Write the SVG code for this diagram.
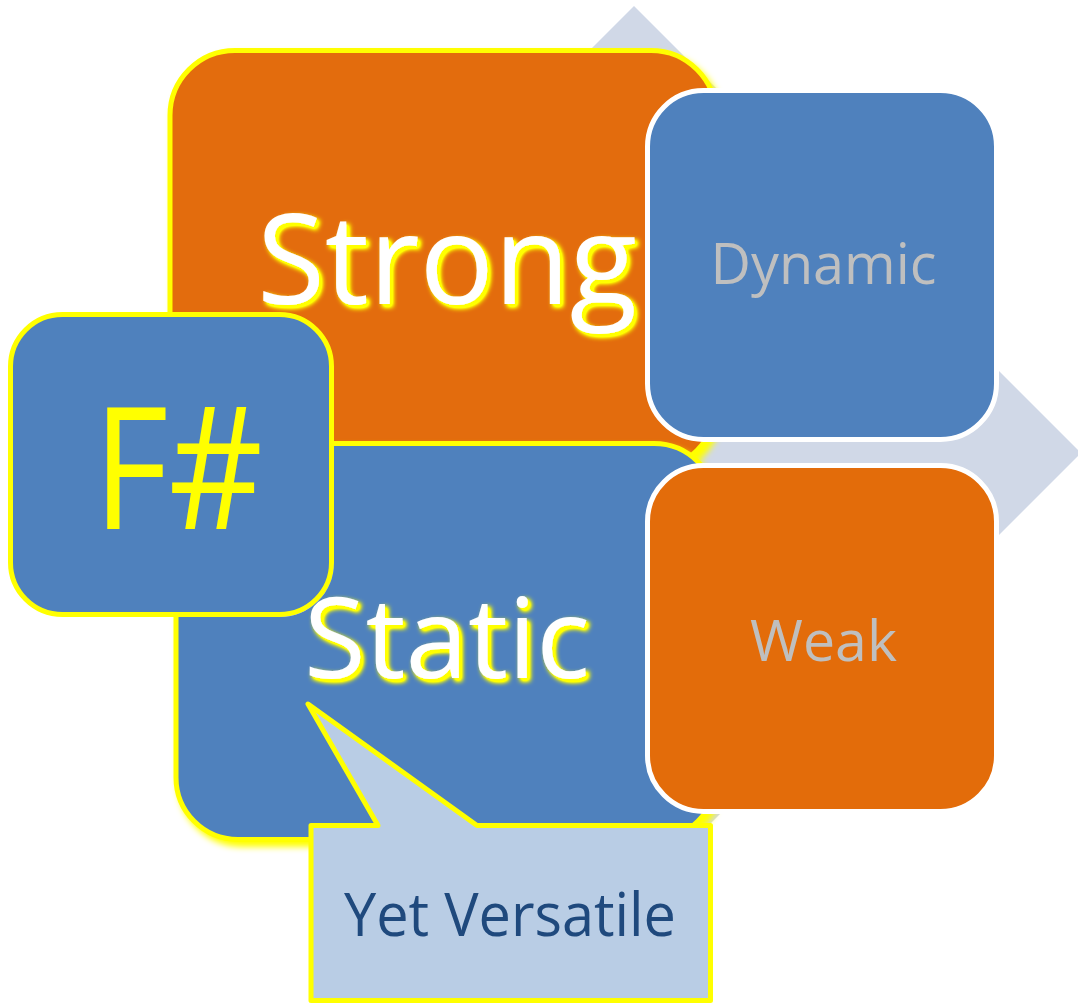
<svg xmlns="http://www.w3.org/2000/svg" width="1078" height="1006" viewBox="0 0 1078 1006">
  <style>
    .label { font-family: "Open Sans", "Liberation Sans", sans-serif; text-anchor: middle; }
    .box-yellow { stroke: #FFFF00; stroke-width: 5; }
    .box-white { stroke: #FFFFFF; stroke-width: 5; }
    .orange { fill: #E36C0A; }
    .blue { fill: #4F81BD; }
    .big { fill: #FFFFFF; filter: url(#text-glow); }
    .muted { fill: #BFBFBF; }
  </style>
  <defs>
    <!-- soft yellow halo cast down-right, used by the large boxes -->
    <filter id="box-glow" x="-10%" y="-10%" width="125%" height="125%">
      <feGaussianBlur in="SourceAlpha" stdDeviation="3" result="b"/>
      <feOffset in="b" dx="4" dy="5" result="o"/>
      <feFlood flood-color="#FFFF00"/>
      <feComposite in2="o" operator="in" result="s"/>
      <feMerge><feMergeNode in="s"/><feMergeNode in="SourceGraphic"/></feMerge>
    </filter>
    <!-- yellow shadow behind the white headline words -->
    <filter id="text-glow" x="-10%" y="-20%" width="125%" height="150%">
      <feGaussianBlur in="SourceAlpha" stdDeviation="2.4" result="b"/>
      <feOffset in="b" dx="3" dy="3" result="o"/>
      <feComponentTransfer in="o" result="o2">
        <feFuncA type="linear" slope="2"/>
      </feComponentTransfer>
      <feFlood flood-color="#FFFF00"/>
      <feComposite in2="o2" operator="in" result="s"/>
      <feMerge><feMergeNode in="s"/><feMergeNode in="SourceGraphic"/></feMerge>
    </filter>
    <!-- keeps the F# tile visible where it overlaps the Static box -->
    <mask id="clear-fsharp" maskUnits="userSpaceOnUse" x="0" y="0" width="1078" height="1006">
      <rect width="1078" height="1006" fill="#FFFFFF"/>
      <rect x="10.5" y="314.5" width="321" height="300" rx="52" fill="#000000" stroke="#000000" stroke-width="5"/>
    </mask>
  </defs>

  <!-- backdrop diamond -->
  <g id="backdrop">
    <polygon points="634,6 1081,453 634,900 187,453" fill="#D0D8E7"/>
  </g>

  <g id="strong">
    <rect class="orange box-yellow" x="170" y="50.5" width="546" height="419" rx="65" filter="url(#box-glow)"/>
    <text class="label big" x="447" y="304" font-size="124" textLength="380" lengthAdjust="spacingAndGlyphs">Strong</text>
  </g>

  <g id="fsharp">
    <rect class="blue box-yellow" x="10.5" y="314.5" width="321" height="300" rx="52"/>
    <text class="label" x="178" y="529" font-size="171" font-weight="500" fill="#FFFF00" textLength="170" lengthAdjust="spacingAndGlyphs">F#</text>
  </g>

  <g id="static">
    <g mask="url(#clear-fsharp)">
      <rect class="blue box-yellow" x="176" y="443.5" width="540" height="396" rx="62" filter="url(#box-glow)"/>
    </g>
    <text class="label big" x="447" y="678" font-size="112" textLength="286" lengthAdjust="spacingAndGlyphs">Static</text>
  </g>

  <g id="dynamic">
    <rect class="blue box-white" x="647.5" y="90.5" width="349" height="349" rx="56"/>
    <text class="label muted" x="823.5" y="284" font-size="56" textLength="226" lengthAdjust="spacingAndGlyphs">Dynamic</text>
  </g>

  <g id="weak">
    <rect class="orange box-white" x="647.5" y="465.5" width="349" height="346" rx="56"/>
    <text class="label muted" x="823.5" y="661" font-size="57" textLength="147" lengthAdjust="spacingAndGlyphs">Weak</text>
  </g>

  <g id="callout">
    <path d="M311,825.5 L378,825.5 L308,704 L477,825.5 L710.5,825.5 L710.5,1000.5 L311,1000.5 Z" fill="#B9CDE5" stroke="#FFFF00" stroke-width="5" stroke-linejoin="round"/>
    <text class="label" x="510" y="936" font-size="60" fill="#1F497D" textLength="332" lengthAdjust="spacingAndGlyphs">Yet Versatile</text>
  </g>
</svg>
